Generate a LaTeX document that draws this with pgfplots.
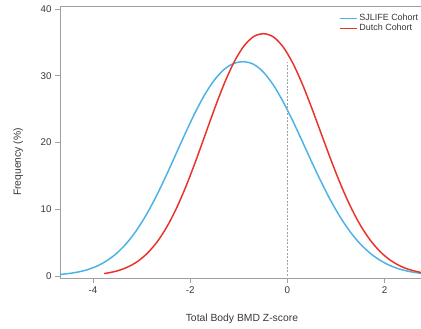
\documentclass[border=0pt]{standalone}
\usepackage{fontspec}
\setmainfont{Liberation Sans}
\usepackage{pgfplots}
\pgfplotsset{compat=1.18}

\definecolor{sjlife}{HTML}{4DB3E6}
\definecolor{dutch}{HTML}{E8352C}
\definecolor{spine}{HTML}{A0A0A0}
\definecolor{txt}{HTML}{383838}

\begin{document}
\begin{tikzpicture}
\begin{axis}[
  name=ax,
  scale only axis,
  width=361bp, height=271.3bp,
  xmin=-4.68, xmax=2.75,
  ymin=-0.33, ymax=40.35,
  axis x line=box, axis y line=left,
  axis line style={spine, line width=0.6pt, -},
  xtick={-4,-2,0,2}, ytick={0,10,20,30,40},
  xtick pos=bottom, ytick pos=left,
  tick align=outside,
  major tick length=5bp,
  tick style={spine, line width=0.6pt},
  /pgf/number format/assume math mode=true,
  ticklabel style={font=\fontsize{9.8}{11}\selectfont, text=txt},
  xlabel={Total Body BMD Z-score},
  ylabel={Frequency (\%)},
  label style={font=\fontsize{10.4}{12}\selectfont, text=txt},
  xlabel style={at={(axis description cs:0.504,-0.151)}, anchor=center},
  ylabel style={at={(axis description cs:-0.116,0.428)}, anchor=center},
  legend style={draw=none, fill=none, inner sep=0pt,
    at={(axis description cs:0.772,0.98)}, anchor=north west,
    font=\fontsize{9}{10}\selectfont, text=txt,
    row sep=-1.8pt},
  legend cell align=left,
  legend image code/.code={\draw[#1] (0bp,0bp) -- (17bp,0bp);},
  every axis plot/.append style={line width=1.5pt},
  clip=true,
]
% SJLIFE cohort density
\addplot[sjlife, smooth] coordinates {
(-4.68,0.20) (-4.5,0.34) (-4.3,0.58) (-4.1,0.95) (-3.9,1.52) (-3.7,2.34)
(-3.5,3.46) (-3.3,4.96) (-3.1,6.87) (-2.9,9.20) (-2.7,11.91) (-2.5,14.94)
(-2.3,18.15) (-2.1,21.38) (-1.9,24.45) (-1.7,27.18) (-1.5,29.38) (-1.3,30.96)
(-1.1,31.85) (-0.9,32.10) (-0.7,31.73) (-0.5,30.59) (-0.3,28.73) (-0.1,26.27)
(0.1,23.39) (0.3,20.27) (0.5,17.08) (0.7,14.01) (0.9,11.17) (1.1,8.66)
(1.3,6.53) (1.5,4.78) (1.7,3.41) (1.9,2.36) (2.1,1.58) (2.3,1.03)
(2.5,0.66) (2.75,0.36)
};
\addlegendentry{SJLIFE Cohort}
% Dutch cohort density
\addplot[dutch, smooth] coordinates {
(-3.77,0.34) (-3.69,0.43) (-3.49,0.76) (-3.29,1.30) (-3.09,2.12) (-2.89,3.33)
(-2.69,5.00) (-2.49,7.22) (-2.29,10.02) (-2.09,13.36) (-1.89,17.15) (-1.69,21.19)
(-1.49,25.23) (-1.29,28.98) (-1.09,32.15) (-0.89,34.50) (-0.69,35.89) (-0.49,36.30)
(-0.29,35.83) (-0.09,34.34) (0.11,31.91) (0.31,28.71) (0.51,24.99) (0.71,21.04)
(0.91,17.12) (1.11,13.46) (1.31,10.22) (1.51,7.49) (1.71,5.30) (1.91,3.62)
(2.11,2.38) (2.31,1.51) (2.51,0.93) (2.75,0.49)
};
\addlegendentry{Dutch Cohort}
% reference line at Z = 0
\addplot[spine, line width=0.6pt, dash pattern=on 2pt off 1.5pt, forget plot]
  coordinates {(0,0) (0,32.1)};
\end{axis}
\pgfresetboundingbox
\path (ax.south west) ++(-60bp,-51bp) coordinate (bl);
\path (ax.north east) ++(0bp,6.7bp) coordinate (tr);
\path[use as bounding box] (bl) rectangle (tr);
\end{tikzpicture}
\end{document}
